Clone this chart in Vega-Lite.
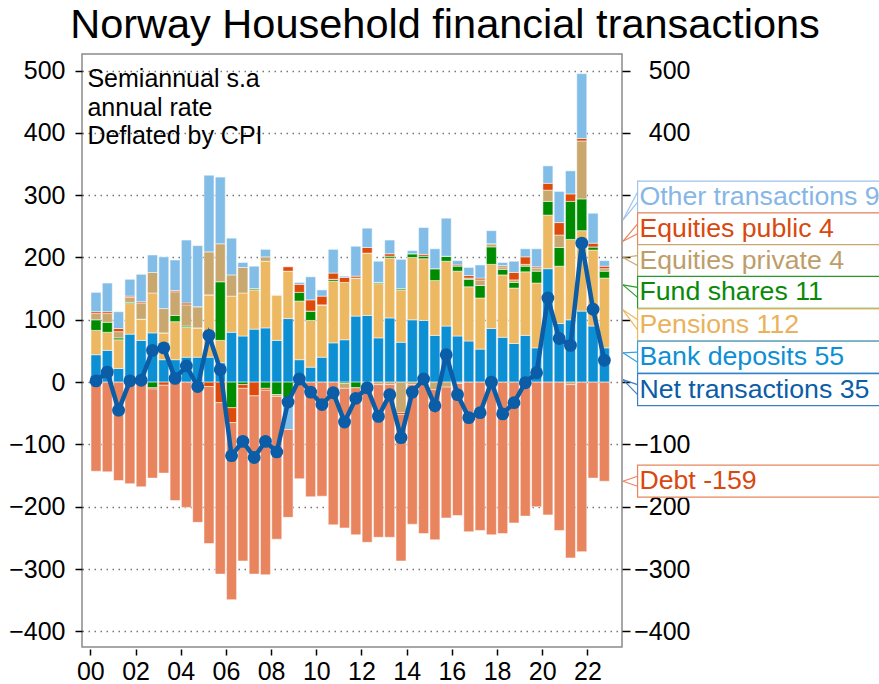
{
 "$schema": "https://vega.github.io/schema/vega-lite/v6.json",
 "width": 540, "height": 593,
 "autosize": "none",
 "padding": {"left": 82, "top": 54, "right": 257, "bottom": 37},
 "background": "white",
 "config": {"view": {"stroke": "#8a8a8a", "strokeWidth": 1.5}, "font": "Liberation Sans"},
 "title": {"text": "Norway Household financial transactions", "fontSize": 41.5, "font": "Liberation Sans", "fontWeight": "normal", "color": "black", "anchor": "middle", "dx": 93, "dy": 37, "offset": 12, "baseline": "alphabetic"},
 "datasets": {
  "flows": [
   {"t":2000.25,"Bank deposits":44,"Pensions":39,"Fund shares":17,"Equities private":10,"Equities public":3,"Other transactions":31,"Debt":-143,"Net transactions":2},
   {"t":2000.75,"Bank deposits":51,"Pensions":29,"Fund shares":16,"Equities private":14,"Equities public":3,"Other transactions":46,"Debt":-144,"Net transactions":16},
   {"t":2001.25,"Bank deposits":22,"Pensions":46,"Fund shares":3,"Equities private":10,"Equities public":5,"Other transactions":27,"Debt":-158,"Net transactions":-45},
   {"t":2001.75,"Bank deposits":77,"Pensions":49,"Fund shares":2,"Equities private":8,"Equities public":2,"Other transactions":27,"Debt":-163,"Net transactions":2},
   {"t":2002.25,"Bank deposits":67,"Pensions":34,"Fund shares":0,"Equities private":26,"Equities public":2,"Other transactions":44,"Debt":-168,"Net transactions":3},
   {"t":2002.75,"Bank deposits":79,"Pensions":64,"Fund shares":-9,"Equities private":33,"Equities public":-2,"Other transactions":28,"Debt":-143,"Net transactions":51},
   {"t":2003.25,"Bank deposits":36,"Pensions":43,"Fund shares":0,"Equities private":39,"Equities public":-5,"Other transactions":83,"Debt":-141,"Net transactions":55},
   {"t":2003.75,"Bank deposits":36,"Pensions":61,"Fund shares":10,"Equities private":38,"Equities public":2,"Other transactions":49,"Debt":-190,"Net transactions":6},
   {"t":2004.25,"Bank deposits":40,"Pensions":48,"Fund shares":2,"Equities private":34,"Equities public":3,"Other transactions":101,"Debt":-201,"Net transactions":26},
   {"t":2004.75,"Bank deposits":40,"Pensions":47,"Fund shares":0,"Equities private":34,"Equities public":0,"Other transactions":98,"Debt":-225,"Net transactions":-7},
   {"t":2005.25,"Bank deposits":40,"Pensions":100,"Fund shares":0,"Equities private":69,"Equities public":-7,"Other transactions":123,"Debt":-252,"Net transactions":75},
   {"t":2005.75,"Bank deposits":31,"Pensions":36,"Fund shares":94,"Equities private":61,"Equities public":-33,"Other transactions":107,"Debt":-275,"Net transactions":20},
   {"t":2006.25,"Bank deposits":80,"Pensions":58,"Fund shares":-41,"Equities private":34,"Equities public":-24,"Other transactions":59,"Debt":-284,"Net transactions":-118},
   {"t":2006.75,"Bank deposits":74,"Pensions":69,"Fund shares":-4,"Equities private":41,"Equities public":-6,"Other transactions":8,"Debt":-277,"Net transactions":-95},
   {"t":2007.25,"Bank deposits":85,"Pensions":63,"Fund shares":2,"Equities private":0,"Equities public":-22,"Other transactions":36,"Debt":-286,"Net transactions":-121},
   {"t":2007.75,"Bank deposits":87,"Pensions":107,"Fund shares":-10,"Equities private":7,"Equities public":-3,"Other transactions":12,"Debt":-296,"Net transactions":-95},
   {"t":2008.25,"Bank deposits":67,"Pensions":73,"Fund shares":-20,"Equities private":-3,"Equities public":0,"Other transactions":0,"Debt":-229,"Net transactions":-112},
   {"t":2008.75,"Bank deposits":102,"Pensions":76,"Fund shares":-25,"Equities private":0,"Equities public":7,"Other transactions":-51,"Debt":-141,"Net transactions":-32},
   {"t":2009.25,"Bank deposits":36,"Pensions":94,"Fund shares":14,"Equities private":-3,"Equities public":13,"Other transactions":3,"Debt":-152,"Net transactions":5},
   {"t":2009.75,"Bank deposits":24,"Pensions":75,"Fund shares":15,"Equities private":0,"Equities public":18,"Other transactions":37,"Debt":-184,"Net transactions":-16},
   {"t":2010.25,"Bank deposits":40,"Pensions":84,"Fund shares":0,"Equities private":0,"Equities public":14,"Other transactions":10,"Debt":-183,"Net transactions":-36},
   {"t":2010.75,"Bank deposits":63,"Pensions":99,"Fund shares":3,"Equities private":0,"Equities public":10,"Other transactions":38,"Debt":-229,"Net transactions":-17},
   {"t":2011.25,"Bank deposits":68,"Pensions":92,"Fund shares":-2,"Equities private":-8,"Equities public":8,"Other transactions":2,"Debt":-224,"Net transactions":-64},
   {"t":2011.75,"Bank deposits":106,"Pensions":61,"Fund shares":-9,"Equities private":0,"Equities public":3,"Other transactions":48,"Debt":-236,"Net transactions":-26},
   {"t":2012.25,"Bank deposits":107,"Pensions":100,"Fund shares":0,"Equities private":-3,"Equities public":9,"Other transactions":31,"Debt":-254,"Net transactions":-9},
   {"t":2012.75,"Bank deposits":71,"Pensions":87,"Fund shares":2,"Equities private":-4,"Equities public":0,"Other transactions":34,"Debt":-245,"Net transactions":-55},
   {"t":2013.25,"Bank deposits":103,"Pensions":96,"Fund shares":3,"Equities private":-4,"Equities public":4,"Other transactions":22,"Debt":-245,"Net transactions":-20},
   {"t":2013.75,"Bank deposits":64,"Pensions":84,"Fund shares":2,"Equities private":-49,"Equities public":-3,"Other transactions":47,"Debt":-235,"Net transactions":-89},
   {"t":2014.25,"Bank deposits":100,"Pensions":100,"Fund shares":6,"Equities private":-4,"Equities public":0,"Other transactions":5,"Debt":-224,"Net transactions":-16},
   {"t":2014.75,"Bank deposits":99,"Pensions":99,"Fund shares":4,"Equities private":-3,"Equities public":3,"Other transactions":43,"Debt":-240,"Net transactions":5},
   {"t":2015.25,"Bank deposits":75,"Pensions":88,"Fund shares":19,"Equities private":-12,"Equities public":0,"Other transactions":32,"Debt":-241,"Net transactions":-38},
   {"t":2015.75,"Bank deposits":90,"Pensions":104,"Fund shares":8,"Equities private":-8,"Equities public":0,"Other transactions":61,"Debt":-210,"Net transactions":44},
   {"t":2016.25,"Bank deposits":74,"Pensions":104,"Fund shares":8,"Equities private":-2,"Equities public":2,"Other transactions":7,"Debt":-212,"Net transactions":-20},
   {"t":2016.75,"Bank deposits":66,"Pensions":87,"Fund shares":12,"Equities private":2,"Equities public":4,"Other transactions":13,"Debt":-240,"Net transactions":-57},
   {"t":2017.25,"Bank deposits":53,"Pensions":82,"Fund shares":20,"Equities private":9,"Equities public":3,"Other transactions":21,"Debt":-238,"Net transactions":-49},
   {"t":2017.75,"Bank deposits":86,"Pensions":103,"Fund shares":28,"Equities private":5,"Equities public":0,"Other transactions":21,"Debt":-245,"Net transactions":0},
   {"t":2018.25,"Bank deposits":72,"Pensions":100,"Fund shares":9,"Equities private":4,"Equities public":2,"Other transactions":5,"Debt":-243,"Net transactions":-51},
   {"t":2018.75,"Bank deposits":62,"Pensions":89,"Fund shares":9,"Equities private":4,"Equities public":12,"Other transactions":18,"Debt":-226,"Net transactions":-33},
   {"t":2019.25,"Bank deposits":75,"Pensions":102,"Fund shares":9,"Equities private":3,"Equities public":12,"Other transactions":13,"Debt":-215,"Net transactions":-1},
   {"t":2019.75,"Bank deposits":55,"Pensions":104,"Fund shares":19,"Equities private":5,"Equities public":2,"Other transactions":29,"Debt":-200,"Net transactions":15},
   {"t":2020.25,"Bank deposits":182,"Pensions":86,"Fund shares":22,"Equities private":18,"Equities public":11,"Other transactions":28,"Debt":-213,"Net transactions":135},
   {"t":2020.75,"Bank deposits":94,"Pensions":92,"Fund shares":30,"Equities private":20,"Equities public":20,"Other transactions":50,"Debt":-238,"Net transactions":70},
   {"t":2021.25,"Bank deposits":100,"Pensions":129,"Fund shares":61,"Equities private":-4,"Equities public":12,"Other transactions":37,"Debt":-278,"Net transactions":59},
   {"t":2021.75,"Bank deposits":114,"Pensions":129,"Fund shares":51,"Equities private":93,"Equities public":4,"Other transactions":104,"Debt":-272,"Net transactions":223},
   {"t":2022.25,"Bank deposits":90,"Pensions":122,"Fund shares":5,"Equities private":0,"Equities public":6,"Other transactions":48,"Debt":-154,"Net transactions":117},
   {"t":2022.75,"Bank deposits":55,"Pensions":112,"Fund shares":11,"Equities private":4,"Equities public":4,"Other transactions":9,"Debt":-159,"Net transactions":35}
  ],
  "labels": [
   {"s":"Other transactions","label":"Other transactions 9","pos":297,"tip":260},
   {"s":"Equities public","label":"Equities public 4","pos":246,"tip":226},
   {"s":"Equities private","label":"Equities private 4","pos":195,"tip":200},
   {"s":"Fund shares","label":"Fund shares 11","pos":144,"tip":156},
   {"s":"Pensions","label":"Pensions 112","pos":92,"tip":116},
   {"s":"Bank deposits","label":"Bank deposits 55","pos":40,"tip":47},
   {"s":"Net transactions","label":"Net transactions 35","pos":-12,"tip":4},
   {"s":"Debt","label":"Debt -159","pos":-159,"tip":-159}
  ]
 },
 "layer": [
  {
   "data": {"name": "flows"},
   "transform": [
    {"fold": ["Bank deposits","Pensions","Fund shares","Equities private","Equities public","Other transactions","Debt"], "as": ["series","value"]},
    {"window": [{"op": "row_number", "as": "k"}], "groupby": ["t"]}
   ],
   "mark": {"type": "bar", "width": 10, "stroke": "white", "strokeWidth": 0.5},
   "encoding": {
    "x": {"field": "t", "type": "quantitative", "scale": {"domain": [1999.63, 2023.53], "nice": false, "zero": false, "padding": 0},
      "axis": {"values": [2000,2002,2004,2006,2008,2010,2012,2014,2016,2018,2020,2022], "labelExpr": "substring(toString(datum.value), 2)", "title": null, "grid": false, "domain": false, "offset": 2, "tickSize": 6, "tickColor": "black", "tickWidth": 1.5, "labelFontSize": 25, "labelColor": "black", "labelPadding": 4, "labelFont": "Liberation Sans"}},
    "y": {"field": "value", "type": "quantitative", "stack": "zero", "scale": {"domain": [-425, 526.5], "nice": false, "zero": false, "padding": 0},
      "axis": {"orient": "left", "values": [-400,-300,-200,-100,0,100,200,300,400,500], "title": null, "grid": true, "gridDash": [1.5, 4.5], "gridColor": "#777777", "gridWidth": 1.4, "domain": false, "tickSize": 7, "tickColor": "black", "tickWidth": 1.5, "labelFontSize": 25, "labelColor": "black", "labelPadding": 10, "labelFont": "Liberation Sans"}},
    "order": {"field": "k", "type": "quantitative", "sort": "ascending"},
    "color": {"field": "series", "type": "nominal",
      "scale": {"domain": ["Bank deposits","Pensions","Fund shares","Equities private","Equities public","Other transactions","Debt"], "range": ["#0d8fd4","#edb862","#008c00","#c8a86e","#de4a0a","#82bde8","#e8855f"]},
      "legend": null}
   }
  },
  {
   "data": {"name": "flows"},
   "mark": {"type": "line", "color": "#0b5da7", "strokeWidth": 4.5, "point": {"filled": true, "size": 165, "color": "#0b5da7"}},
   "encoding": {
    "x": {"field": "t", "type": "quantitative"},
    "y": {"field": "Net transactions", "type": "quantitative",
      "axis": {"orient": "right", "values": [-400,-300,-200,-100,0,100,200,300,400,500], "labelExpr": "datum.value >= 0 && datum.value <= 300 ? '' : datum.label", "title": null, "grid": false, "domain": false, "tickSize": 8, "tickColor": "black", "tickWidth": 1.5, "labelFontSize": 25, "labelColor": "black", "labelAlign": "right", "labelPadding": 60, "labelFont": "Liberation Sans"}}
   }
  },
  {
   "data": {"values": [{}]},
   "mark": {"type": "text", "align": "left", "baseline": "top", "fontSize": 25, "lineHeight": 28.8, "color": "black", "font": "Liberation Sans"},
   "encoding": {
    "x": {"datum": 1999.87, "type": "quantitative"},
    "y": {"datum": 506, "type": "quantitative", "axis": null},
    "text": {"value": ["Semiannual s.a", "annual rate", "Deflated by CPI"]}
   }
  },
  {
   "data": {"name": "labels"},
   "mark": {"type": "bar", "orient": "horizontal", "size": 32, "fill": "white", "strokeWidth": 1.2},
   "encoding": {
    "x": {"datum": 2024.22, "type": "quantitative"},
    "x2": {"datum": 2036},
    "y": {"field": "pos", "type": "quantitative", "axis": null},
    "stroke": {"field": "s", "type": "nominal", "legend": null,
      "scale": {"domain": ["Other transactions","Equities public","Equities private","Fund shares","Pensions","Bank deposits","Net transactions","Debt"], "range": ["#9cc4ec","#e8855f","#c8a86e","#2a9a2a","#edb862","#3aa0dc","#3b7fc4","#e8855f"]}}
   }
  },
  {
   "data": {"name": "labels"},
   "mark": {"type": "rule", "strokeWidth": 1.2, "y2Offset": -5},
   "encoding": {
    "x": {"datum": 2023.57, "type": "quantitative"},
    "x2": {"datum": 2024.22},
    "y": {"field": "tip", "type": "quantitative", "axis": null},
    "y2": {"field": "pos"},
    "stroke": {"field": "s", "type": "nominal", "legend": null,
      "scale": {"domain": ["Other transactions","Equities public","Equities private","Fund shares","Pensions","Bank deposits","Net transactions","Debt"], "range": ["#9cc4ec","#e8855f","#c8a86e","#2a9a2a","#edb862","#3aa0dc","#3b7fc4","#e8855f"]}}
   }
  },
  {
   "data": {"name": "labels"},
   "mark": {"type": "rule", "strokeWidth": 1.2, "y2Offset": 5},
   "encoding": {
    "x": {"datum": 2023.57, "type": "quantitative"},
    "x2": {"datum": 2024.22},
    "y": {"field": "tip", "type": "quantitative", "axis": null},
    "y2": {"field": "pos"},
    "stroke": {"field": "s", "type": "nominal", "legend": null,
      "scale": {"domain": ["Other transactions","Equities public","Equities private","Fund shares","Pensions","Bank deposits","Net transactions","Debt"], "range": ["#9cc4ec","#e8855f","#c8a86e","#2a9a2a","#edb862","#3aa0dc","#3b7fc4","#e8855f"]}}
   }
  },
  {
   "data": {"name": "labels"},
   "mark": {"type": "text", "align": "left", "baseline": "middle", "fontSize": 26.7, "font": "Liberation Sans"},
   "encoding": {
    "x": {"datum": 2024.3, "type": "quantitative"},
    "y": {"field": "pos", "type": "quantitative", "axis": null},
    "text": {"field": "label"},
    "color": {"field": "s", "type": "nominal", "legend": null,
      "scale": {"domain": ["Other transactions","Equities public","Equities private","Fund shares","Pensions","Bank deposits","Net transactions","Debt"], "range": ["#86b6e6","#d9480f","#bd9e68","#078a07","#e9b25b","#0d8fd4","#0b5da7","#d9480f"]}}
   }
  }
 ],
 "resolve": {"scale": {"color": "independent", "stroke": "independent"}, "axis": {"y": "independent"}}
}
